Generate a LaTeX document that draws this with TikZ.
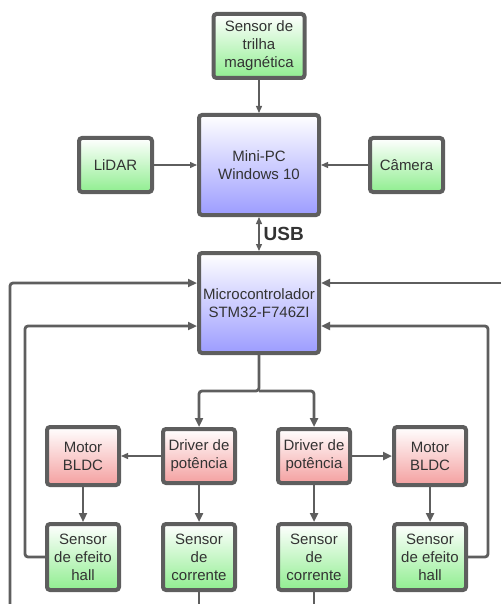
\documentclass[tikz,border=0pt]{standalone}
\usepackage{fontspec}
\setmainfont{Liberation Sans}
\usetikzlibrary{arrows.meta,positioning,calc}
\definecolor{slate}{HTML}{5E5E5E}
\definecolor{ink}{HTML}{333333}
\definecolor{leaf}{HTML}{90EE90}
\definecolor{blush}{HTML}{F4A0A0}
\definecolor{lav}{HTML}{9C9CFF}

\begin{document}
\begin{tikzpicture}[x=1pt,y=1pt,font=\fontsize{15}{18}\selectfont,
  box/.style={draw=slate,line width=4pt,rounded corners=3pt,align=center,text=ink,inner sep=1pt,minimum width=72pt},
  sens/.style={box,top color=white,bottom color=leaf},
  pwr/.style={box,top color=white,bottom color=blush,minimum height=54pt},
  proc/.style={box,top color=white,bottom color=lav,minimum width=120pt,minimum height=100pt},
  ar/.style={draw=slate,line width=1.3pt,-{Triangle[length=7pt,width=6pt]}},
  ard/.style={draw=slate,line width=1.3pt,{Triangle[length=7pt,width=6pt]}-{Triangle[length=7pt,width=6pt]}},
  arb/.style={draw=slate,line width=2.8pt,rounded corners=3pt,-{Triangle[length=9pt,width=8pt]}},
  wire/.style={draw=slate,line width=2.8pt,rounded corners=3pt}]
\useasboundingbox (0,0) rectangle (501,-604);
% top: PC and its sensors
\node[proc] (minipc) at (259,-165) {Mini-PC\\Windows 10};
\node[sens,minimum width=91pt,minimum height=64pt,above=33pt of minipc] (trilha) {Sensor de\\trilha\\magnética};
\node[sens,minimum width=73pt,minimum height=54pt,left=43pt of minipc] (lidar) {LiDAR};
\node[sens,minimum width=73pt,minimum height=54pt,right=47pt of minipc] (camera) {Câmera};
\node[proc,below=34pt of minipc] (micro) {Microcontrolador\\STM32-F746ZI};
% drive chain
\coordinate[below=36pt of micro] (split);
\node[pwr,below left=36pt and 22pt of split] (drv1) {Driver de\\potência};
\node[pwr,below right=36pt and 17pt of split] (drv2) {Driver de\\potência};
\node[pwr,minimum height=58pt,left=40pt of drv1] (mot1) {Motor\\BLDC};
\node[pwr,minimum height=58pt,right=40pt of drv2] (mot2) {Motor\\BLDC};
\node[sens,minimum height=66pt,below=35pt of mot1] (hall1) {Sensor\\de efeito\\hall};
\node[sens,minimum height=66pt,below=37pt of drv1] (cur1) {Sensor\\de\\corrente};
\node[sens,minimum height=66pt,below=37pt of drv2] (cur2) {Sensor\\de\\corrente};
\node[sens,minimum height=66pt,below=35pt of mot2] (hall2) {Sensor\\de efeito\\hall};
\coordinate (lout) at (10,-604);
\coordinate (rout) at (501,-283);
\coordinate (c1out) at (cur1.south |- lout);
\coordinate (c2out) at (cur2.south |- lout);

\draw[ar] (trilha) -- (minipc);
\draw[ar] (lidar) -- (minipc);
\draw[ar] (camera) -- (minipc);
\draw[ard] (minipc) -- node[right=3pt,inner sep=1pt,text=ink,font=\fontsize{19}{22}\selectfont\bfseries]{USB} (micro);
\draw[arb] (micro) -- (split) -| (drv1);
\draw[arb] (split) -| (drv2);
\draw[ar] (drv1) -- (mot1);
\draw[arb] (drv2) -- (mot2);
\draw[arb] (mot1) -- (hall1);
\draw[arb] (mot2) -- (hall2);
\draw[arb] (drv1) -- (cur1);
\draw[arb] (drv2) -- (cur2);
% feedback to the microcontroller
\draw[arb] (lout) |- ([yshift=20pt]micro.west);
\draw[arb] (hall1.west) -- ++(-20pt,0) |- ([yshift=-23pt]micro.west);
\draw[arb] (rout) -- ([yshift=20pt]micro.east);
\draw[arb] (hall2.east) -- ++(20pt,0) |- ([yshift=-23pt]micro.east);
\draw[wire] (cur1) -- (c1out);
\draw[wire] (cur2) -- (c2out);
\end{tikzpicture}
\end{document}
